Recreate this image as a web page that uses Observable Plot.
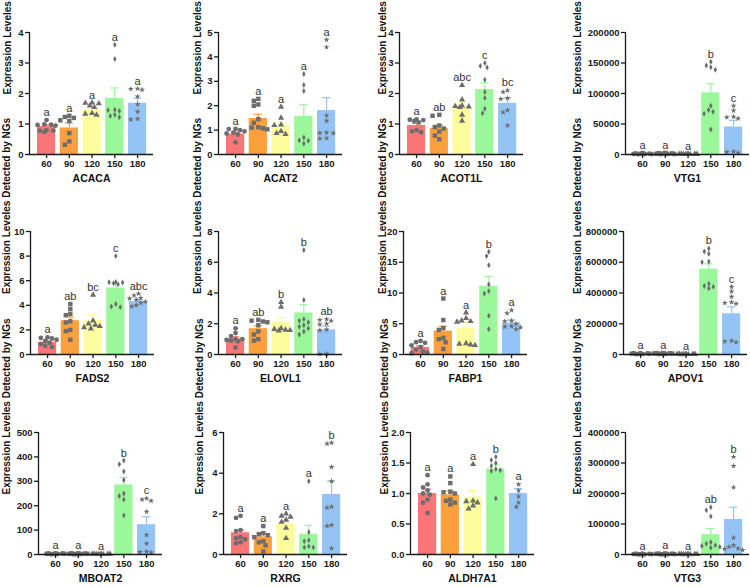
<!DOCTYPE html>
<html><head><meta charset="utf-8">
<script src="https://cdn.jsdelivr.net/npm/d3@7"></script>
<script src="https://cdn.jsdelivr.net/npm/@observablehq/plot@0.6"></script>
<style>
body{margin:0;background:#fff;}
#wrap{position:relative;width:750px;height:587px;overflow:hidden;background:#fff;}
.panel{position:absolute;}
.panel svg{max-width:none !important;}
</style></head><body><div id="wrap"></div>
<script>
// ---------- data ----------
const groups = ["60","90","120","150","180"];
const genes = ["ACACA","ACAT2","ACOT1L","VTG1","FADS2","ELOVL1","FABP1","APOV1","MBOAT2","RXRG","ALDH7A1","VTG3"];
const yTitle = "Expression Leveles Detected by NGs";
const yMax  = [4,5,4,200000,10,8,20,800000,500,6,2,400000];
const yStep = [1,1,1,50000,2,2,5,200000,100,2,0.5,100000];
const means = [
  [0.92,0.87,1.47,1.84,1.68],
  [0.84,1.48,1.20,1.56,1.80],
  [0.95,0.86,1.55,2.13,1.68],
  [1200,1500,800,101000,45000],
  [1.00,2.75,2.80,5.40,4.30],
  [1.03,1.68,2.10,2.70,1.60],
  [1.15,3.80,4.30,11.1,5.10],
  [5000,6000,3000,555000,265000],
  [3,3,2,285,122],
  [1.07,0.87,1.50,1.00,2.95],
  [1.00,0.98,0.94,1.40,1.00],
  [2000,2500,1500,65000,115000]
];
const sems = [
  [0.06,0.16,0.08,0.34,0.17],
  [0.07,0.17,0.13,0.48,0.53],
  [0.07,0.10,0.15,0.22,0.17],
  [300,400,200,15000,11000],
  [0.10,0.30,0.45,0.40,0.15],
  [0.12,0.18,0.30,0.55,0.25],
  [0.25,0.80,0.95,1.60,0.50],
  [800,900,500,35000,45000],
  [0.3,0.3,0.2,30,33],
  [0.13,0.15,0.15,0.43,0.65],
  [0.07,0.06,0.11,0.08,0.08],
  [300,400,200,20000,40000]
];
const letters = [
  ["a","a","a","a","a"],
  ["a","a","a","a","a"],
  ["a","ab","abc","c","bc"],
  ["a","a","a","b","c"],
  ["a","ab","bc","c","abc"],
  ["a","ab","b","b","ab"],
  ["a","a","a","b","a"],
  ["a","a","a","b","c"],
  ["a","a","a","b","c"],
  ["a","a","a","a","b"],
  ["a","a","a","b","a"],
  ["a","a","a","ab","b"]
];
const points = [
  [[1.13,0.99,0.98,0.97,0.95,0.80,0.78,0.78,0.74],
   [1.27,1.23,1.20,1.12,1.10,0.70,0.43,0.32],
   [1.70,1.69,1.67,1.60,1.55,1.35,1.33,1.30],
   [3.60,3.13,1.47,1.45,1.43,1.30,1.26,1.22],
   [2.16,2.15,2.12,1.90,1.65,1.40,1.17,1.15]],
  [[1.05,1.04,1.00,0.95,0.90,0.86,0.82,0.50],
   [2.28,2.20,2.05,2.00,1.45,1.30,1.12,1.10,1.07,1.03],
   [1.95,1.50,1.22,1.20,0.95,0.87,0.83],
   [3.30,2.85,2.60,0.70,0.58,0.56,0.45],
   [4.70,4.40,1.60,1.38,0.90,0.88,0.87,0.67,0.65]],
  [[1.15,1.14,1.13,1.10,1.05,0.80,0.76,0.73],
   [1.30,1.27,0.95,0.90,0.85,0.75,0.62,0.50],
   [2.27,1.80,1.60,1.58,1.57,1.55,1.30,1.10],
   [3.00,2.90,2.85,2.45,2.05,1.85,1.50,1.35],
   [2.10,2.05,1.85,1.82,1.45,1.38,0.95]],
  [[2500,2000,1500,1200,1000,800,600,400],
   [2800,2300,1800,1500,1200,1000,800,600],
   [1500,1200,1000,800,600,500,400,300],
   [152000,146000,143000,139000,80000,73000,70000,67000,41000],
   [80000,72000,62000,61000,59000,5000,4000,3000]],
  [[1.40,1.35,1.30,1.20,1.10,0.95,0.85,0.70,0.60],
   [4.10,3.70,3.30,3.20,2.70,2.60,2.00,1.90,1.20],
   [4.85,2.75,2.50,2.40,2.30,2.20,2.10],
   [8.00,5.90,5.88,5.85,5.80,5.70,4.10,3.90,3.85],
   [4.95,4.80,4.60,4.55,4.45,4.30,4.20,4.00,3.90]],
  [[1.70,1.40,1.20,1.00,1.00,0.95,0.90,0.85,0.45],
   [2.25,2.20,2.15,2.10,1.90,1.50,1.30,1.00,0.90],
   [3.40,3.10,1.70,1.65,1.60,1.58,1.55],
   [6.80,3.55,2.30,2.20,2.10,1.90,1.80,1.70,1.50,1.30],
   [2.30,2.25,2.20,2.00,1.95,1.62,1.58,0.05,0.03]],
  [[2.20,2.00,1.90,1.50,1.20,0.80,0.50,0.30,0.20],
   [9.10,5.60,4.30,4.00,2.70,2.50,2.00,0.90],
   [6.80,5.90,5.50,5.40,5.30,1.80,1.70,1.60,1.50],
   [16.7,16.0,14.5,11.4,10.3,9.9,6.3,4.1],
   [7.20,6.70,5.50,5.40,5.00,4.60,4.50,4.40,4.10]],
  [[9000,8000,7000,6000,5000,4000,3000,2000],
   [10000,9000,8000,7000,6000,5000,4000,3000],
   [5000,4000,3500,3000,2500,2000,1500,1000],
   [690000,670000,655000,605000,600000,460000,445000,440000,430000],
   [440000,410000,375000,340000,335000,330000,90000,85000,80000]],
  [[5,4,4,3,3,2,2,1],
   [5,5,4,3,3,2,2,1],
   [3,3,2,2,2,1,1,1],
   [385,370,340,305,250,240,225,160],
   [230,225,220,175,80,45,12,10,8]],
  [[1.90,1.80,1.20,1.15,0.85,0.80,0.75,0.60,0.55],
   [1.40,1.05,1.00,0.95,0.85,0.65,0.60,0.45,0.15],
   [2.00,1.90,1.85,1.70,1.60,1.30,0.80],
   [3.60,1.10,0.70,0.65,0.40,0.35,0.35],
   [5.50,5.45,4.30,3.60,2.35,2.30,1.45,1.40,0.30]],
  [[1.30,1.15,1.10,1.05,1.00,0.98,0.90,0.85,0.68],
   [1.28,1.17,1.03,1.02,1.00,0.90,0.88,0.85,0.82],
   [1.48,0.88,0.87,0.85,0.80,0.75],
   [1.60,1.55,1.50,1.45,1.40,1.38,1.37,0.92],
   [1.15,1.05,0.95,0.85,0.78]],
  [[3000,2500,2000,1500,1000,800,600,400],
   [3500,3000,2500,2000,1500,1000,800,600],
   [2000,1500,1200,1000,800,600,400,300],
   [155000,145000,125000,40000,35000,30000,28000,25000,22000],
   [320000,290000,220000,55000,30000,25000,20000,18000,15000]]
];

// ---------- styles / layout ----------
const barColors = ["#fa7676","#fca03e","#fdfd9e","#9af79a","#94c3f5"];
const symbols = ["circle","square","triangle","diamond","star"];
const symR = [2.4,2.5,2.3,1.8,1.9];
const axisX  = [29,218,399,625,30,218,403,623,38,223,410,625];
const titleX = [7,197,382,577,6,197,382,577,6,199,384,577];
const rowTop = [32,231,432], rowBottom = [154,354,554];
const FW = 124, XMAX = 5.45, STEP = FW / XMAX;
const ML = 62, MR = 6, MT = 30, MB = 38;
const FONT = "'Liberation Sans', Arial, Helvetica, sans-serif";

const wrap = document.getElementById("wrap");

genes.forEach((gene, gi) => {
  const r = Math.floor(gi / 4);
  const H = rowBottom[r] - rowTop[r];
  const ymax = yMax[gi];
  const centers = groups.map((_, i) => 0.75 + i);
  const bars = groups.map((g, i) => {
    const mx = d3.max(points[gi][i]);
    const top = means[gi][i] + sems[gi][i];
    return {g, xc: centers[i], x1: centers[i] - 0.4, x2: centers[i] + 0.4,
            cl: centers[i] - 0.18, cr: centers[i] + 0.18,
            y: means[gi][i], top, lab: Math.max(mx, top), letter: letters[gi][i], color: barColors[i]};
  });
  // simple beeswarm spreading of the replicate points within each bar
  const dotsByGroup = points[gi].map((arr, i) => {
    const placed = [];
    const out = [];
    const sorted = [...arr].sort((a, b) => b - a);
    for (const v of sorted) {
      const py = v / ymax * H;
      let best = 0, bestCost = Infinity;
      for (const o of [0, -4.5, 4.5, -9, 9, -2.25, 2.25, -6.75, 6.75]) {
        let cost = Math.abs(o) * 0.001;
        for (const p of placed) {
          const d = Math.hypot(p.ox - o, p.py - py);
          if (d < 4.6) cost += 4.6 - d;
        }
        if (cost < bestCost - 1e-9) { bestCost = cost; best = o; }
      }
      placed.push({ox: best, py});
      out.push({x: centers[i] + best / STEP, y: v});
    }
    return out;
  });

  const W = ML + FW + MR;
  const fmt = ymax === 2 ? d3.format(".1f") : d3.format("d");
  const plot = Plot.plot({
    width: W, height: MT + H + MB,
    marginLeft: ML, marginRight: MR, marginTop: MT, marginBottom: MB,
    style: {background: "transparent", overflow: "visible", maxWidth: "none", fontFamily: FONT, fontSize: "9.5px", fontWeight: "bold", color: "#1a1a1a"},
    x: {domain: [0, XMAX], axis: null},
    y: {domain: [0, ymax], axis: null},
    marks: [
      Plot.rectY(bars, {x1: "x1", x2: "x2", y: "y", fill: "color"}),
      Plot.ruleX(bars, {x: "xc", y1: "y", y2: "top", stroke: "color", strokeWidth: 1.2}),
      Plot.ruleY(bars, {x1: "cl", x2: "cr", y: "top", stroke: "color", strokeWidth: 1.2}),
      ...dotsByGroup.map((d, i) => Plot.dot(d, {x: "x", y: "y", symbol: symbols[i], r: symR[i], fill: "#6d6d6d", stroke: "none"})),
      Plot.text(bars, {x: "xc", y: "lab", text: "letter", dy: -4, lineAnchor: "bottom", fontSize: 11, fontWeight: "normal", fill: "#333", opacity: 0.99}),
      Plot.ruleY([0], {stroke: "#1a1a1a", strokeWidth: 1.3}),
      Plot.ruleX([0], {stroke: "#1a1a1a", strokeWidth: 1.3}),
      Plot.axisY({ticks: d3.range(0, ymax + yStep[gi] / 2, yStep[gi]), tickSize: 4, tickPadding: 2, tickFormat: fmt, label: null, strokeWidth: 1.3}),
      Plot.axisX({ticks: centers, tickSize: 4, tickPadding: 2, tickFormat: d => groups[Math.round(d - 0.75)], label: null, strokeWidth: 1.3}),
      Plot.text([yTitle], {frameAnchor: "left", dx: titleX[gi] - axisX[gi], dy: 1, rotate: -90, fontSize: 10, fontWeight: "bold", fill: "#111"}),
      Plot.text([gene], {frameAnchor: "bottom", dy: 27, fontSize: 10.5, fontWeight: "bold", fill: "#111"})
    ]
  });
  const div = document.createElement("div");
  div.className = "panel";
  div.style.left = (axisX[gi] - ML) + "px";
  div.style.top = (rowTop[r] - MT) + "px";
  div.style.width = W + "px";
  div.appendChild(plot);
  wrap.appendChild(div);
});
</script>
</body></html>
